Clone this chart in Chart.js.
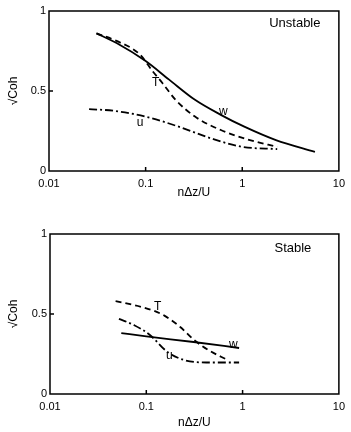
<!DOCTYPE html>
<html>
<head>
<meta charset="utf-8">
<script src="https://cdn.jsdelivr.net/npm/chart.js@4.4.1/dist/chart.umd.min.js"></script>
<style>
  body { margin: 0; background: #fff; width: 351px; height: 432px; overflow: hidden; }
  #c1 { position: absolute; left: 0; top: 0; }
  #c2 { position: absolute; left: 0; top: 220px; }
</style>
</head>
<body>
<canvas id="c1" width="351" height="200"></canvas>
<canvas id="c2" width="351" height="212"></canvas>
<script>
// x tick labels (log axis) and y tick values
var xTicks = [0.01, 0.1, 1, 10];
var yTicks = [0, 0.5, 1];

// Unstable panel
var unstW_x = [0.031, 0.05, 0.1, 0.175, 0.324, 0.6, 1.05, 2.23, 5.65];
var unstW_y = [0.86, 0.80, 0.687, 0.571, 0.445, 0.351, 0.277, 0.193, 0.12];
var unstT_x = [0.031, 0.05, 0.087, 0.118, 0.149, 0.204, 0.324, 0.6, 1.2, 2.3];
var unstT_y = [0.86, 0.813, 0.729, 0.624, 0.55, 0.445, 0.34, 0.256, 0.193, 0.151];
var unstU_x = [0.026, 0.047, 0.1, 0.22, 0.475, 1.0, 2.3];
var unstU_y = [0.387, 0.376, 0.34, 0.277, 0.204, 0.151, 0.137];

// Stable panel
var stT_x = [0.048, 0.082, 0.12, 0.154, 0.225, 0.31, 0.45, 0.70];
var stT_y = [0.581, 0.55, 0.52, 0.49, 0.419, 0.34, 0.272, 0.2125];
var stW_x = [0.055, 0.1, 0.31, 0.92];
var stW_y = [0.381, 0.36, 0.325, 0.2875];
var stU_x = [0.052, 0.075, 0.109, 0.166, 0.247, 0.42, 0.92];
var stU_y = [0.47, 0.43, 0.369, 0.2625, 0.2125, 0.197, 0.197];

// curve labels, placed in data coordinates
var unstLabels = [["T", 0.127, 0.55], ["w", 0.637, 0.369], ["u", 0.0877, 0.30], ["Unstable", 3.5, 0.925]];
var stLabels = [["T", 0.131, 0.544], ["w", 0.80, 0.306], ["u", 0.174, 0.2375], ["Stable", 3.33, 0.9125]];

var FONT = "'Liberation Sans', Arial, sans-serif";
var INK = "#000";

function pts(xs, ys) {
    var out = [];
    for (let i = 0; i < xs.length; i++) out.push({ x: xs[i], y: ys[i] });
    return out;
}

function ds(xs, ys, dash) {
    return {
        data: pts(xs, ys),
        borderColor: INK,
        borderWidth: 1.8,
        borderDash: dash,
        pointRadius: 0,
        fill: false,
        cubicInterpolationMode: 'monotone'
    };
}

// frame, inward ticks and curve labels
function framePlugin(labels) {
    return {
        id: 'frame',
        afterDraw: function (chart) {
            var ctx = chart.ctx;
            var a = chart.chartArea;
            var xs = chart.scales.x, ys = chart.scales.y;
            ctx.save();
            ctx.strokeStyle = INK;
            ctx.lineWidth = 1.5;
            ctx.strokeRect(a.left, a.top, a.right - a.left, a.bottom - a.top);
            ctx.beginPath();
            [0.1, 1].forEach(function (v) {
                var px = xs.getPixelForValue(v);
                ctx.moveTo(px, a.bottom);
                ctx.lineTo(px, a.bottom - 4);
            });
            var py = ys.getPixelForValue(0.5);
            ctx.moveTo(a.left, py);
            ctx.lineTo(a.left + 4, py);
            ctx.stroke();
            ctx.fillStyle = INK;
            ctx.textAlign = 'center';
            ctx.textBaseline = 'middle';
            labels.forEach(function (l) {
                ctx.font = (l[0].length > 1 ? '13px ' : '12px ') + FONT;
                ctx.fillText(l[0], xs.getPixelForValue(l[1]), ys.getPixelForValue(l[2]));
            });
            ctx.restore();
        }
    };
}

function makeChart(id, sets, labels, yWidth, xHeight, titleBottom) {
    return new Chart(document.getElementById(id), {
        type: 'line',
        data: { datasets: sets },
        options: {
            responsive: false,
            animation: false,
            layout: { padding: { left: 0, right: 6, top: id === 'c1' ? 11 : 14, bottom: 0 } },
            plugins: { legend: { display: false }, tooltip: { enabled: false } },
            scales: {
                x: {
                    type: 'logarithmic',
                    min: 0.01,
                    max: 10,
                    grid: { display: false, drawTicks: false },
                    border: { display: false },
                    afterBuildTicks: function (s) { s.ticks = xTicks.map(function (v) { return { value: v }; }); },
                    afterFit: function (s) { s.height = xHeight; },
                    ticks: {
                        autoSkip: false,
                        maxRotation: 0,
                        padding: 6,
                        color: INK,
                        font: { family: FONT, size: 11 },
                        callback: function (v) { return String(v); }
                    },
                    title: {
                        display: true,
                        text: 'nΔz/U',
                        color: INK,
                        font: { family: FONT, size: 12 },
                        padding: { top: 0, bottom: titleBottom }
                    }
                },
                y: {
                    min: 0,
                    max: 1,
                    grid: { display: false, drawTicks: false },
                    border: { display: false },
                    afterBuildTicks: function (s) { s.ticks = yTicks.map(function (v) { return { value: v }; }); },
                    afterFit: function (s) { s.width = yWidth; },
                    ticks: {
                        padding: 3,
                        color: INK,
                        font: { family: FONT, size: 11 },
                        callback: function (v) { return String(v); }
                    },
                    title: {
                        display: true,
                        text: '√Coh',
                        color: INK,
                        font: { family: FONT, size: 12 },
                        padding: { top: 6, bottom: 0 }
                    }
                }
            }
        },
        plugins: [framePlugin(labels)]
    });
}

makeChart('c1', [
    ds(unstW_x, unstW_y, []),
    ds(unstT_x, unstT_y, [6, 4]),
    ds(unstU_x, unstU_y, [8, 3, 2, 3])
], unstLabels, 49, 29, 0);

makeChart('c2', [
    ds(stT_x, stT_y, [6, 4]),
    ds(stW_x, stW_y, []),
    ds(stU_x, stU_y, [8, 3, 2, 3])
], stLabels, 50, 38, 2);
</script>
</body>
</html>
